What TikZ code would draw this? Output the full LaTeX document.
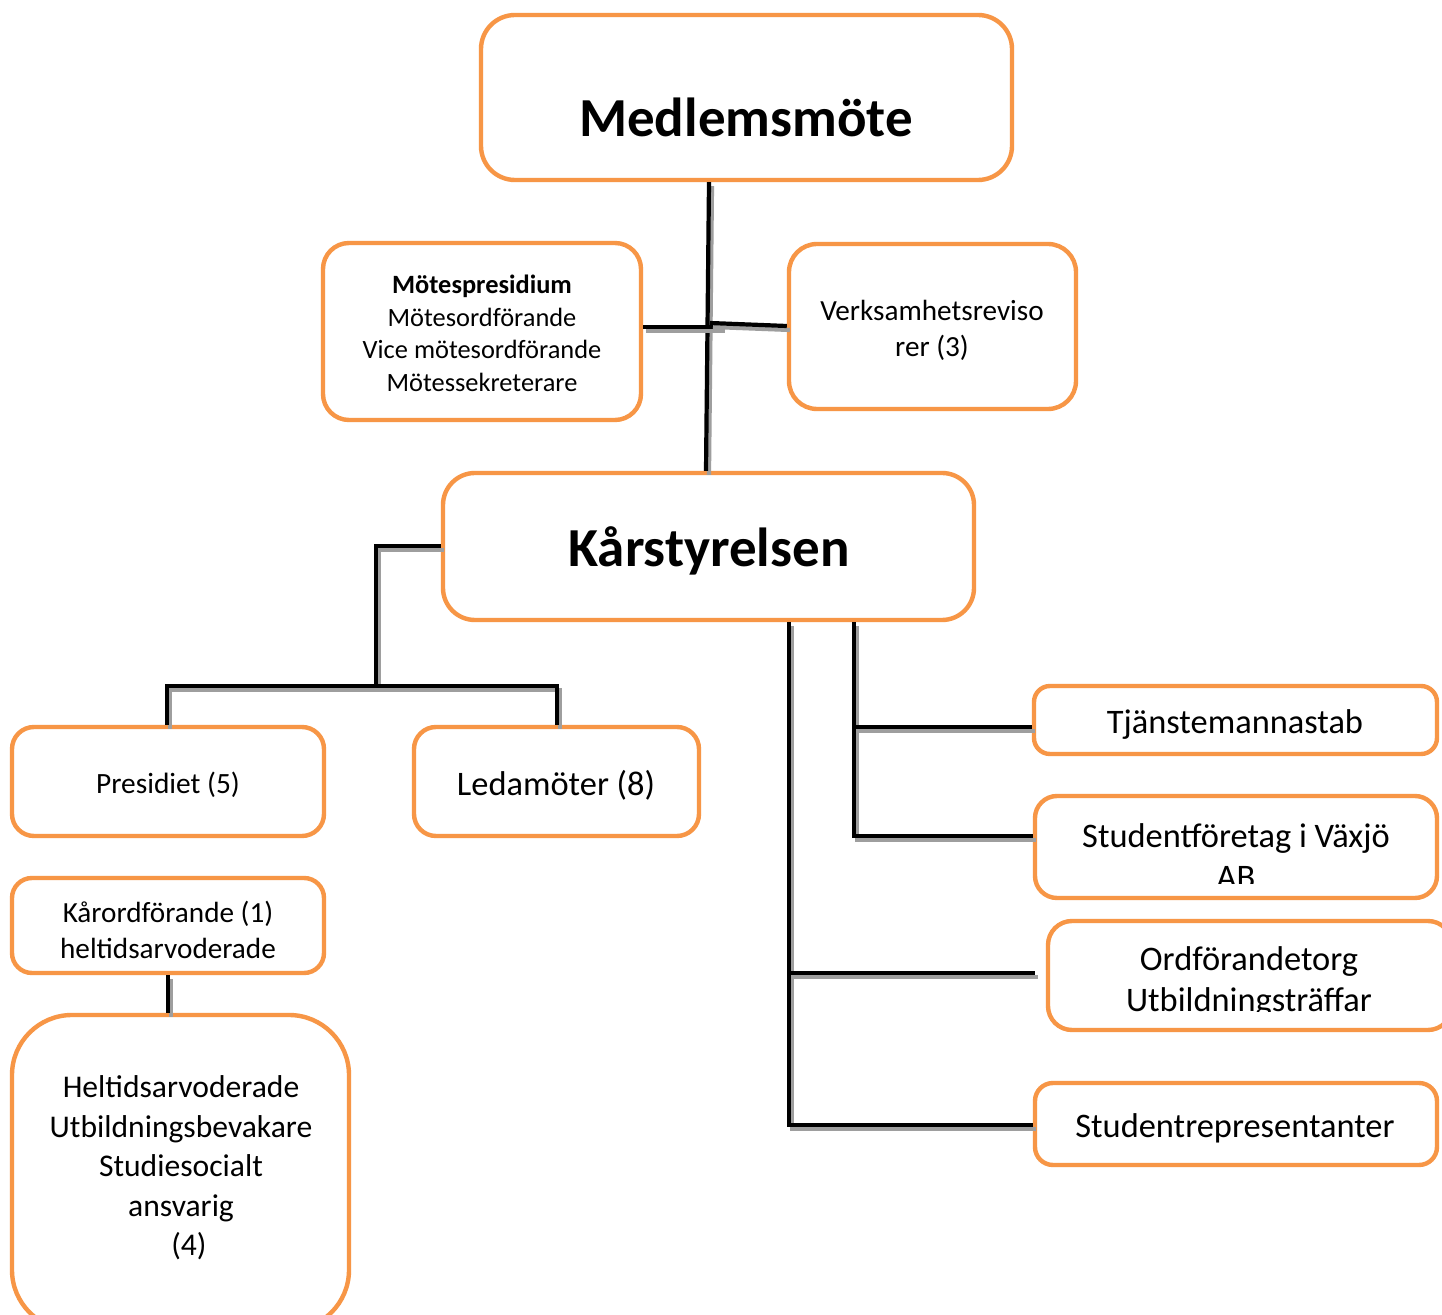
\documentclass[tikz,border=0pt]{standalone}
\usepackage{fontspec}
\setmainfont{Carlito}
\definecolor{orbox}{HTML}{F79646}
\tikzset{
  box/.style={draw=orbox, line width=2.2pt, rounded corners=12pt, fill=white, inner sep=0pt},
  txt/.style={align=center, inner sep=0pt, text=black},
  conn/.style={line width=2.1pt, draw=black},
  shad/.style={line width=2.1pt, draw=black!38},
}
\newcommand{\connector}[1]{%
  \begin{scope}[transform canvas={shift={(1.5pt,-2pt)}}]\draw[shad] #1;\end{scope}
  \draw[conn] #1;}
\begin{document}
\begin{tikzpicture}[x=0.5pt,y=-0.5pt]
\useasboundingbox (0,0) rectangle (1442,1315);
\fill[white] (0,0) rectangle (1442,1315);

% boxes
\node[box, minimum width=265.5pt, minimum height=82.5pt, rounded corners=17pt] (med) at (746.5,97.5) {};
\node[box, minimum width=159pt, minimum height=88.5pt, rounded corners=13pt] (mp) at (482,331.5) {};
\node[box, minimum width=143.5pt, minimum height=82.5pt, rounded corners=14pt] (rev) at (932.5,326.5) {};
\node[box, minimum width=265.5pt, minimum height=73.5pt, rounded corners=16pt] (kar) at (708.5,546.5) {};
\node[box, minimum width=156pt, minimum height=54.5pt, rounded corners=11pt] (pd) at (168,781.5) {};
\node[box, minimum width=142.5pt, minimum height=54.5pt, rounded corners=11pt] (led) at (556.5,781.5) {};
\node[box, minimum width=201.5pt, minimum height=34pt, rounded corners=8pt] (tj) at (1235.5,720) {};
\node[box, minimum width=201pt, minimum height=51pt, rounded corners=11pt] (sf) at (1236,847) {};
\node[box, minimum width=202pt, minimum height=54.5pt, rounded corners=12pt] (ot) at (1250,975.5) {};
\node[box, minimum width=201pt, minimum height=41pt, rounded corners=9pt] (sr) at (1236,1124) {};
\node[box, minimum width=156pt, minimum height=47.5pt, rounded corners=10pt] (ko) at (168,925.5) {};
\node[box, minimum width=168.5pt, minimum height=157.5pt, rounded corners=30pt] (ha) at (180.5,1172.5) {};

% texts
\node[txt, anchor=base, font=\fontsize{27.5}{33}\selectfont\bfseries] (medT) at (746,137) {Medlemsmöte};
\node[txt, anchor=base, font=\fontsize{27.5}{33}\selectfont\bfseries] (karT) at (709,567) {Kårstyrelsen};
\node[txt, font=\fontsize{13.2}{16.25}\selectfont] (mpT) at (482,333.5) {\textbf{Mötespresidium}\\Mötesordförande\\Vice mötesordförande\\Mötessekreterare};
\node[txt, font=\fontsize{14.6}{18}\selectfont] (revT) at (932,330) {Verksamhetsreviso\\rer (3)};
\node[txt, font=\fontsize{14.7}{18}\selectfont] (pdT) at (168,785) {Presidiet (5)};
\node[txt, font=\fontsize{17.2}{20.5}\selectfont] (ledT) at (556,785) {Ledamöter (8)};
\node[txt, font=\fontsize{17.2}{20.5}\selectfont] (tjT) at (1235,724.5) {Tjänstemannastab};
\begin{scope}
  \clip (1000,790) rectangle (1442,884);
  \node[txt, font=\fontsize{17.2}{20.5}\selectfont] (sfT) at (1236,856) {Studentföretag i Växjö\\AB};
\end{scope}
\begin{scope}
  \clip (1000,915) rectangle (1442,1012);
  \node[txt, font=\fontsize{17.2}{20.5}\selectfont] (otT) at (1249,982) {Ordförandetorg\\Utbildningsträffar};
\end{scope}
\node[txt, font=\fontsize{17.2}{20.5}\selectfont] (srT) at (1235,1128) {Studentrepresentanter};
\node[txt, font=\fontsize{14.6}{18}\selectfont] (koT) at (168,930) {Kårordförande (1)\\heltidsarvoderade};
\node[txt, font=\fontsize{15.8}{19.75}\selectfont] (haT) at (181,1168) {Heltidsarvoderade\\Utbildningsbevakare\\Studiesocialt\\ansvarig\\\hspace*{0.5em}(4)};

% connector coordinates
\coordinate (xa) at (709,0);
\coordinate (xb) at (706,0);
\coordinate (j1) at (722,327);
\coordinate (j2) at (710,323);
\coordinate (bl) at (376,546);
\coordinate (bb) at (376,686);
\coordinate (bL) at (167,686);
\coordinate (bR) at (557,686);
\coordinate (r1) at (854,0);
\coordinate (r1a) at (854,727);
\coordinate (r1b) at (854,836);
\coordinate (r2) at (789,0);
\coordinate (r2a) at (789,973);
\coordinate (r2b) at (789,1125);
\coordinate (r2e) at (1035,973);
\coordinate (k1) at (168,0);

% connectors
\connector{(xa |- med.south) -- (xb |- kar.north)}
\connector{(mp.east |- j1) -- (j1)}
\connector{(j2) -- (rev.west |- 0,326)}
\connector{(kar.west |- bl) -- (bl) -- (bb)}
\connector{(bL |- pd.north) -- (bL) -- (bR) -- (bR |- led.north)}
\connector{(r1 |- kar.south) -- (r1b) -- (sf.west |- r1b)}
\connector{(r1a) -- (tj.west |- r1a)}
\connector{(r2 |- kar.south) -- (r2b) -- (sr.west |- r2b)}
\connector{(r2a) -- (r2e)}
\connector{(k1 |- ko.south) -- (k1 |- ha.north)}
\end{tikzpicture}
\end{document}
